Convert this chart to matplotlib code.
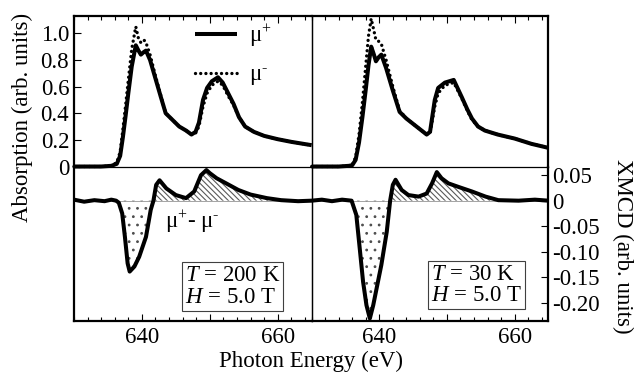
import matplotlib
matplotlib.use('Agg')
import matplotlib.pyplot as plt
from matplotlib.ticker import MultipleLocator, FixedLocator

plt.rc('font', family='Liberation Serif', size=16.5)
plt.rc('mathtext', fontset='custom', rm='Liberation Serif', it='Liberation Serif:italic')
plt.rc('hatch', linewidth=0.8)

# absorption, T = 200 K
e_abs_200 = [630, 632, 634, 635.5, 636.3, 636.8, 637.2, 637.6, 638.0, 638.5,
             639.1, 639.5, 639.85, 640.3, 640.6, 641.2, 642.0, 642.8, 643.5, 644.5,
             645.5, 646.5, 647.3, 647.9, 648.4, 649.0, 649.6, 650.3, 651.2, 651.9,
             652.7, 653.5, 654.3, 655.2, 656.5, 658.0, 660.0, 662.0, 665.0]
mu_p_200 = [0, 0, 0, 0.005, 0.02, 0.08, 0.22, 0.38, 0.55, 0.75,
            0.91, 0.87, 0.84, 0.86, 0.87, 0.80, 0.66, 0.52, 0.40, 0.35,
            0.30, 0.27, 0.24, 0.26, 0.33, 0.50, 0.59, 0.64, 0.67, 0.63,
            0.55, 0.47, 0.37, 0.30, 0.26, 0.23, 0.205, 0.185, 0.16]
mu_m_200 = [0, 0, 0, 0.005, 0.03, 0.11, 0.28, 0.46, 0.65, 0.88,
            1.05, 0.96, 0.93, 0.95, 0.93, 0.84, 0.68, 0.53, 0.40, 0.35,
            0.30, 0.27, 0.24, 0.25, 0.30, 0.45, 0.55, 0.61, 0.64, 0.61,
            0.53, 0.46, 0.37, 0.30, 0.26, 0.23, 0.205, 0.185, 0.16]

# absorption, T = 30 K
e_abs_30 = [630, 632, 634, 635.5, 636.0, 636.5, 637.0, 637.5, 638.0, 638.4,
            638.8, 639.2, 639.5, 639.9, 640.3, 641.0, 642.0, 643.0, 644.0, 645.0,
            646.0, 647.0, 647.5, 648.2, 648.7, 649.7, 651.0, 652.2, 653.0, 653.7,
            654.6, 655.6, 657.5, 660.0, 662.5, 665.0]
mu_p_30 = [0, 0, 0, 0.005, 0.01, 0.05, 0.18, 0.37, 0.58, 0.76,
           0.90, 0.84, 0.79, 0.82, 0.84, 0.74, 0.57, 0.41, 0.36, 0.32,
           0.28, 0.24, 0.26, 0.50, 0.59, 0.63, 0.65, 0.52, 0.43, 0.36,
           0.30, 0.27, 0.24, 0.21, 0.17, 0.14]
mu_m_30 = [0, 0, 0, 0.005, 0.015, 0.07, 0.24, 0.48, 0.76, 0.98,
           1.11, 1.02, 0.95, 0.94, 0.92, 0.80, 0.60, 0.42, 0.36, 0.32,
           0.28, 0.24, 0.25, 0.45, 0.55, 0.61, 0.63, 0.51, 0.42, 0.35,
           0.30, 0.27, 0.24, 0.21, 0.17, 0.14]

# XMCD (mu+ - mu-)
e_x_200 = [630, 631.5, 633, 634.5, 635.5, 636.2, 636.6, 637.1, 637.5, 637.9,
           638.2, 638.9, 639.6, 640.6, 641.3, 641.7, 642.1, 642.6, 643.6, 645.0,
           646.5, 647.7, 648.7, 649.5, 650.0, 651.0, 652.4, 654.2, 656.0, 658.4,
           660.5, 663.0, 665.0]
xmcd_200 = [0.002, -0.002, 0.001, -0.001, 0.002, 0.0, -0.004, -0.025, -0.071, -0.123,
            -0.139, -0.129, -0.110, -0.071, -0.018, 0.0, 0.031, 0.040, 0.024, 0.011,
            0.005, 0.018, 0.050, 0.060, 0.054, 0.044, 0.034, 0.021, 0.012, 0.005,
            0.001, -0.001, 0.0]
e_x_30 = [630, 631.5, 633, 634.5, 635.9, 636.6, 637.1, 637.6, 638.1, 638.6,
          639.1, 639.6, 640.3, 641.1, 641.6, 642.0, 642.4, 643.3, 644.3, 645.8,
          647.0, 647.8, 648.5, 649.2, 650.2, 651.7, 653.7, 655.7, 657.6, 660.6,
          663.0, 665.0]
xmcd_30 = [0.0, 0.002, -0.001, 0.002, 0.0, -0.028, -0.093, -0.159, -0.205, -0.231,
           -0.205, -0.172, -0.126, -0.061, 0.0, 0.031, 0.041, 0.021, 0.011, 0.008,
           0.014, 0.034, 0.056, 0.044, 0.034, 0.027, 0.018, 0.008, 0.001, 0.0,
           0.002, 0.0]

xmcd_ticks = [0.05, 0, -0.05, -0.10, -0.15, -0.20]
xmcd_ticklabels = ['0.05', '0', '-0.05', '-0.10', '-0.15', '-0.20']

fig = plt.figure(figsize=(6.34, 3.72), dpi=100)
L, M, R = 0.1167, 0.4916, 0.865
B, D, T = 0.137, 0.5524, 0.957
ax_tl = fig.add_axes([L, D, M - L, T - D])
ax_bl = fig.add_axes([L, B, M - L, D - B])
ax_tr = fig.add_axes([M, D, R - M, T - D])
ax_br = fig.add_axes([M, B, R - M, D - B])

thick, thin = 1.6, 0.9
dots = (0, (0.01, 1.55))
plus = 'μ$^{+}$'
minus = 'μ$^{\\text{-}}$'

for ax, e, mp, mm in [(ax_tl, e_abs_200, mu_p_200, mu_m_200), (ax_tr, e_abs_30, mu_p_30, mu_m_30)]:
    ax.plot(e, mm, color='black', lw=2.4, linestyle=dots, dash_capstyle='round', clip_on=False, label=minus)
    ax.plot(e, mp, color='black', lw=2.9, solid_capstyle='butt', clip_on=False, label=plus)
    ax.set_ylim(0, 1.13)

for ax, e, x in [(ax_bl, e_x_200, xmcd_200), (ax_br, e_x_30, xmcd_30)]:
    ax.axhline(0, color='0.5', lw=0.5)
    ax.fill_between(e, x, 0, where=[v >= 0 for v in x], interpolate=True,
                    facecolor='none', edgecolor='0.35', lw=0, hatch='\\' * 6)
    ax.fill_between(e, x, 0, where=[v <= 0 for v in x], interpolate=True,
                    facecolor='none', edgecolor='0.3', lw=0, hatch='..')
    ax.plot(e, x, color='black', lw=2.9)
    ax.set_ylim(-0.236, 0.067)

for ax in [ax_tl, ax_bl, ax_tr, ax_br]:
    ax.patch.set_visible(False)
    ax.set_xlim(630, 665)
    ax.xaxis.set_major_locator(FixedLocator([640, 650, 660]))
    ax.xaxis.set_minor_locator(MultipleLocator(2))
    ax.tick_params(which='major', length=5, width=0.8, direction='in')
    ax.tick_params(which='minor', length=3, width=0.8, direction='in')
    for s in ax.spines.values():
        s.set_linewidth(thin)

for ax in [ax_tl, ax_tr]:
    ax.tick_params(axis='x', which='both', top=True, bottom=False, labelbottom=False)
    ax.spines['top'].set_linewidth(thick)
for ax in [ax_bl, ax_br]:
    ax.tick_params(axis='x', which='both', top=False, bottom=True, pad=4)
    ax.set_xticklabels(['640', '', '660'])
    ax.spines['bottom'].set_linewidth(thick)
    ax.spines['top'].set_visible(False)

ax_tl.set_yticks([0, 0.2, 0.4, 0.6, 0.8, 1.0])
ax_tl.set_yticklabels(['0', '0.2', '0.4', '0.6', '0.8', '1.0'])
ax_tl.spines['left'].set_linewidth(thick)
ax_bl.spines['left'].set_linewidth(thick)
ax_bl.tick_params(axis='y', left=False, labelleft=False)
ax_tr.tick_params(axis='y', left=False, labelleft=False)
ax_tr.spines['right'].set_linewidth(thick)
ax_br.spines['right'].set_linewidth(thick)
ax_br.set_yticks(xmcd_ticks)
ax_br.set_yticklabels(xmcd_ticklabels)
ax_br.tick_params(axis='y', left=False, labelleft=False, right=True, labelright=True, pad=3)

h, lab = ax_tl.get_legend_handles_labels()
ax_tl.legend(h[::-1], lab[::-1], loc='upper left', bbox_to_anchor=(0.47, 1.02), frameon=False,
             handlelength=1.85, handletextpad=0.5, labelspacing=0.7, borderaxespad=0)

ax_bl.text(643.4, -0.042, plus + '- ' + minus, va='center', ha='left')

box = dict(boxstyle='square,pad=0.12', facecolor='white', edgecolor='0.25', lw=0.8)
ax_bl.text(0.465, 0.085, '$T$ = 200 K\n$H$ = 5.0 T', transform=ax_bl.transAxes,
           ha='left', va='bottom', linespacing=1.05, bbox=box)
ax_br.text(0.505, 0.095, '$T$ = 30 K\n$H$ = 5.0 T', transform=ax_br.transAxes,
           ha='left', va='bottom', linespacing=1.05, bbox=box)

fig.text(0.035, 0.683, 'Absorption (arb. units)', rotation=90, ha='center', va='center')
fig.text(0.982, 0.339, 'XMCD (arb. units)', rotation=270, ha='center', va='center')
fig.text(0.49, 0.028, 'Photon Energy (eV)', ha='center', va='center')

plt.savefig('out.png', dpi=100)
